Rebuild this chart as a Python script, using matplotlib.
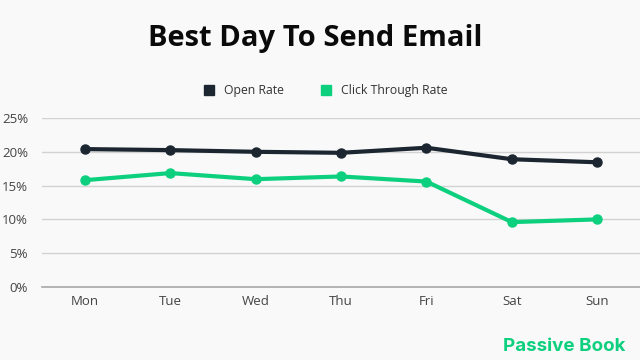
import matplotlib.pyplot as plt

days = ["Mon", "Tue", "Wed", "Thu", "Fri", "Sat", "Sun"]
open_rate = [20.4, 20.25, 20.0, 19.85, 20.6, 18.9, 18.45]
click_rate = [15.8, 16.85, 15.95, 16.35, 15.6, 9.6, 10.0]
yticks = [0, 5, 10, 15, 20, 25]

dark = "#1b2631"
green = "#0dd07f"
bg = "#f9f9f9"

plt.rcParams['font.family'] = ['Open Sans', 'DejaVu Sans']

fig = plt.figure(figsize=(6.4, 3.6), dpi=100, facecolor=bg)
ax = fig.add_axes([42/640, 1 - 287/360, 598/640, (287 - 118)/360])
ax.set_facecolor(bg)

x = range(len(days))
ax.plot(x, open_rate, color=dark, lw=3, marker="o", ms=6.5, label="Open Rate",
        solid_capstyle="round", clip_on=False, zorder=3)
ax.plot(x, click_rate, color=green, lw=3, marker="o", ms=6.5, label="Click Through Rate",
        solid_capstyle="round", clip_on=False, zorder=3)

ax.set_xlim(-0.5, 6.5)
ax.set_ylim(0, 25)
ax.set_yticks(yticks)
ax.set_yticklabels([f"{v}%" for v in yticks])
ax.set_xticks(list(x))
ax.set_xticklabels(days)

ax.grid(axis="y", color="#d2d2d2", lw=1)
ax.set_axisbelow(True)
for s in ["top", "right", "left"]:
    ax.spines[s].set_visible(False)
ax.spines["bottom"].set_color("#a8a8a8")
ax.spines["bottom"].set_linewidth(1.2)
ax.tick_params(length=0, labelsize=9.5, colors="#444444", pad=6)
ax.tick_params(axis="y", pad=10)

fig.text(0.492, 0.893, "Best Day To Send Email", ha="center", va="center",
         fontsize=21, fontweight="bold", color="#0a0a0a")

h = [plt.Line2D([], [], marker="s", ls="", color=dark, ms=7),
     plt.Line2D([], [], marker="s", ls="", color=green, ms=7)]
fig.legend(h, ["Open Rate", "Click Through Rate"], loc="center", bbox_to_anchor=(0.508, 0.748),
           ncol=2, frameon=False, fontsize=8.8, handlelength=1.0, handletextpad=0.7,
           columnspacing=3.0, labelcolor="#333333")

fig.text(0.977, 0.038, "Passive Book", ha="right", va="center", fontsize=13.5,
         fontweight="bold", color=green, family=["Inter", "DejaVu Sans"])

plt.savefig("out.png", dpi=100, facecolor=bg)
